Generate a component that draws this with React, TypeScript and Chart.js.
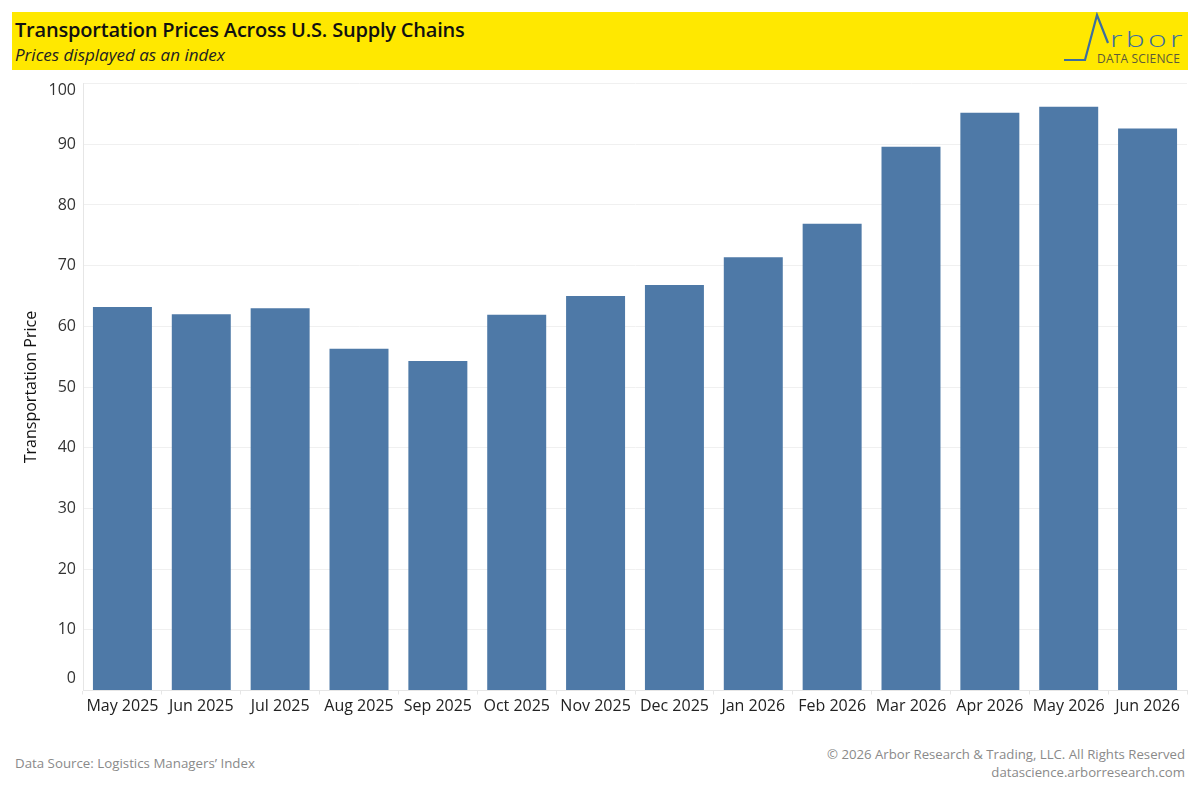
import React, { useEffect, useRef } from "react";
import { Chart, registerables } from "chart.js";

Chart.register(...registerables);

const months = [
  "May 2025", "Jun 2025", "Jul 2025", "Aug 2025", "Sep 2025", "Oct 2025", "Nov 2025",
  "Dec 2025", "Jan 2026", "Feb 2026", "Mar 2026", "Apr 2026", "May 2026", "Jun 2026",
];
const transportationPrice = [63.2, 62.0, 63.0, 56.3, 54.3, 61.9, 65.0, 66.8, 71.4, 76.9, 89.6, 95.2, 96.2, 92.6];
const yTickValues = [0, 10, 20, 30, 40, 50, 60, 70, 80, 90, 100];

const FONT = '"Open Sans", "Noto Sans", sans-serif';

const yLabelPlugin = {
  id: "yLabels",
  afterDraw(chart: any) {
    const s = chart.scales.y;
    const ctx = chart.ctx;
    ctx.save();
    ctx.font = `16px ${FONT}`;
    ctx.fillStyle = "#333333";
    ctx.textAlign = "right";
    ctx.textBaseline = "middle";
    s.ticks.forEach((t: any) => {
      let y = s.getPixelForValue(t.value);
      y = Math.min(Math.max(y, s.top + 7), s.bottom - 12);
      ctx.fillText(String(t.value), s.right - 7, y);
    });
    ctx.restore();
  },
};

function BarChart() {
  const ref = useRef<HTMLCanvasElement | null>(null);
  useEffect(() => {
    if (!ref.current) return;
    const chart = new Chart(ref.current, {
      type: "bar",
      data: {
        labels: months,
        datasets: [
          {
            label: "Transportation Price",
            data: transportationPrice,
            backgroundColor: "#4E79A7",
            barPercentage: 0.748,
            categoryPercentage: 1,
          },
        ],
      },
      options: {
        animation: false,
        responsive: false,
        maintainAspectRatio: false,
        layout: { padding: { top: 13.6, bottom: 2.3, left: 0, right: 13 } },
        plugins: { legend: { display: false }, tooltip: { enabled: false } },
        scales: {
          x: {
            offset: true,
            grid: {
              offset: true,
              drawOnChartArea: false,
              drawTicks: true,
              tickLength: 4,
              color: "#e6e6e6",
            },
            border: { display: true, color: "#e6e6e6" },
            ticks: {
              color: "#222222",
              font: { family: FONT, size: 16 },
              padding: 2,
              maxRotation: 0,
              autoSkip: false,
            },
          },
          y: {
            min: 0,
            max: 100,
            afterBuildTicks: (scale: any) => {
              scale.ticks = yTickValues.map((v) => ({ value: v }));
            },
            afterFit: (scale: any) => {
              scale.width = 83;
            },
            grid: { color: "#f0f0f0", drawTicks: false },
            border: { display: true, color: "#e6e6e6" },
            ticks: { display: false },
            title: {
              display: true,
              text: "Transportation Price",
              color: "#111111",
              font: { family: FONT, size: 16 },
              padding: { top: 22, bottom: 0 },
            },
          },
        },
      },
      plugins: [yLabelPlugin],
    });
    return () => chart.destroy();
  }, []);
  return (
    <canvas
      ref={ref}
      width={1200}
      height={650}
      style={{ position: "absolute", left: 0, top: 70, width: 1200, height: 650 }}
    />
  );
}

export default function App() {
  return (
    <div
      style={{
        position: "fixed",
        left: 0,
        top: 0,
        width: 1200,
        height: 800,
        background: "#ffffff",
        fontFamily: FONT,
        overflow: "hidden",
      }}
    >
      <div
        style={{
          position: "absolute",
          left: 12,
          top: 12,
          width: 1176,
          height: 58,
          background: "#FFE800",
        }}
      >
        <div
          style={{
            position: "absolute",
            left: 3,
            top: 4,
            fontSize: 20,
            fontWeight: 600,
            color: "#111111",
            whiteSpace: "nowrap",
            letterSpacing: -0.2,
          }}
        >
          Transportation Prices Across U.S. Supply Chains
        </div>
        <div
          style={{
            position: "absolute",
            left: 3,
            top: 31,
            fontSize: 17,
            fontStyle: "italic",
            color: "#222222",
            whiteSpace: "nowrap",
          }}
        >
          Prices displayed as an index
        </div>
        <svg
          width={150}
          height={58}
          style={{ position: "absolute", left: 1028, top: 0 }}
        >
          <polyline
            points="24,48 45,48 57,3 68,31"
            fill="none"
            stroke="#3D6E9E"
            strokeWidth={2.2}
          />
          <text
            transform="translate(70,35) scale(1.45,1)"
            x={0}
            y={0}
            fontFamily={FONT}
            fontSize={22}
            fontWeight={300}
            fill="#3D6E9E"
            textLength={50}
            lengthAdjust="spacing"
          >
            rbor
          </text>
          <text
            x={57}
            y={51}
            fontFamily={FONT}
            fontSize={12}
            fill="#5C5A3A"
            textLength={83}
            lengthAdjust="spacing"
          >
            DATA SCIENCE
          </text>
        </svg>
      </div>
      <BarChart />
      <div
        style={{
          position: "absolute",
          left: 15,
          top: 754,
          fontSize: 13.3,
          color: "#8a8a8a",
          whiteSpace: "nowrap",
        }}
      >
        Data Source: Logistics Managers’ Index
      </div>
      <div
        style={{
          position: "absolute",
          right: 15,
          top: 745,
          fontSize: 13.2,
          color: "#8a8a8a",
          textAlign: "right",
          lineHeight: "18px",
          whiteSpace: "nowrap",
        }}
      >
        © 2026 Arbor Research &amp; Trading, LLC. All Rights Reserved
        <br />
        datascience.arborresearch.com
      </div>
    </div>
  );
}
